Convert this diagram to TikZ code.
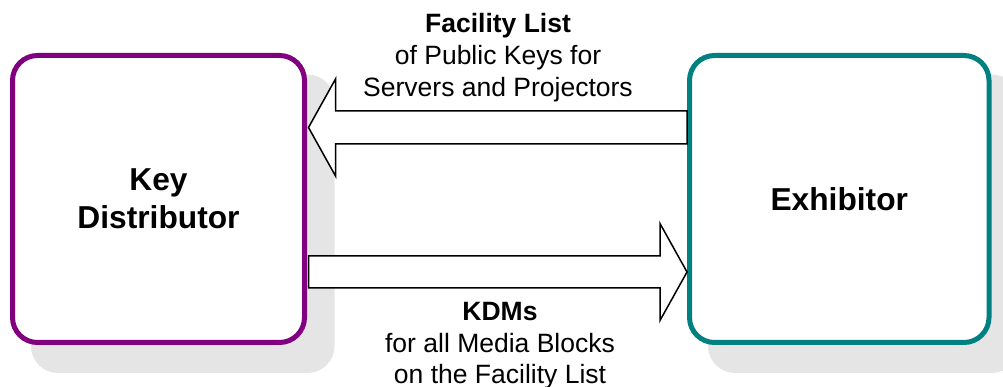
\documentclass[tikz,border=0pt]{standalone}
\usepackage{fontspec}
\setmainfont{Liberation Sans}
\usetikzlibrary{calc,backgrounds}
\definecolor{kdpurple}{HTML}{800080}
\definecolor{exteal}{HTML}{008080}
\definecolor{shadowgray}{HTML}{E5E5E5}
\begin{document}
\begin{tikzpicture}[x=1pt,y=1pt,
  box/.style={draw, line width=5pt, rounded corners=25pt, fill=white,
    minimum height=287pt, align=center, inner sep=0pt,
    font=\fontsize{31.7}{38}\selectfont\bfseries},
  blockarr/.style={draw=black, line width=1.5pt, fill=white, line join=miter},
  lbl/.style={align=center, inner sep=0pt, font=\fontsize{26.5}{32}\selectfont}]
\useasboundingbox (0,0) rectangle (1003,387);
\node[box, draw=kdpurple, minimum width=292pt] (kd) at (158.5,188) {Key\\Distributor};
\node[box, draw=exteal, minimum width=299.5pt] (ex) at (839.25,188) {Exhibitor};
\begin{scope}[on background layer]
  \fill[shadowgray, rounded corners=27pt] ($(kd.south west)+(21,-28)$) rectangle ($(kd.north east)+(27.5,-21.5)$);
  \fill[shadowgray, rounded corners=27pt] ($(ex.south west)+(21,-28)$) rectangle ($(ex.north east)+(27.5,-21.5)$);
\end{scope}
% upper arrow: Exhibitor -> Key Distributor
\coordinate (u) at ($(kd.east)+(1.5,71.5)$);
\draw[blockarr] (u) -- ++(27,48.5) -- ++(0,-32) -| ($(ex.west |- u)+(0,-16.5)$)
  -- ($(u)+(27,-16.5)$) -- ++(0,-32) -- cycle;
% lower arrow: Key Distributor -> Exhibitor
\coordinate (l) at ($(ex.west)+(0,-73)$);
\draw[blockarr] (l) -- ++(-27,48.5) -- ++(0,-32.5) -| ($(kd.east |- l)+(1.5,-16)$)
  -- ($(l)+(-27,-16)$) -- ++(0,-32.5) -- cycle;
\node[lbl] (fl) at (498,329.5) {\textbf{Facility List}\\of Public Keys for\\Servers and Projectors};
\node[lbl, font=\fontsize{26.5}{31.5}\selectfont] (kdm) at (500,41) {\textbf{KDMs}\\for all Media Blocks\\on the Facility List};
\end{tikzpicture}
\end{document}
